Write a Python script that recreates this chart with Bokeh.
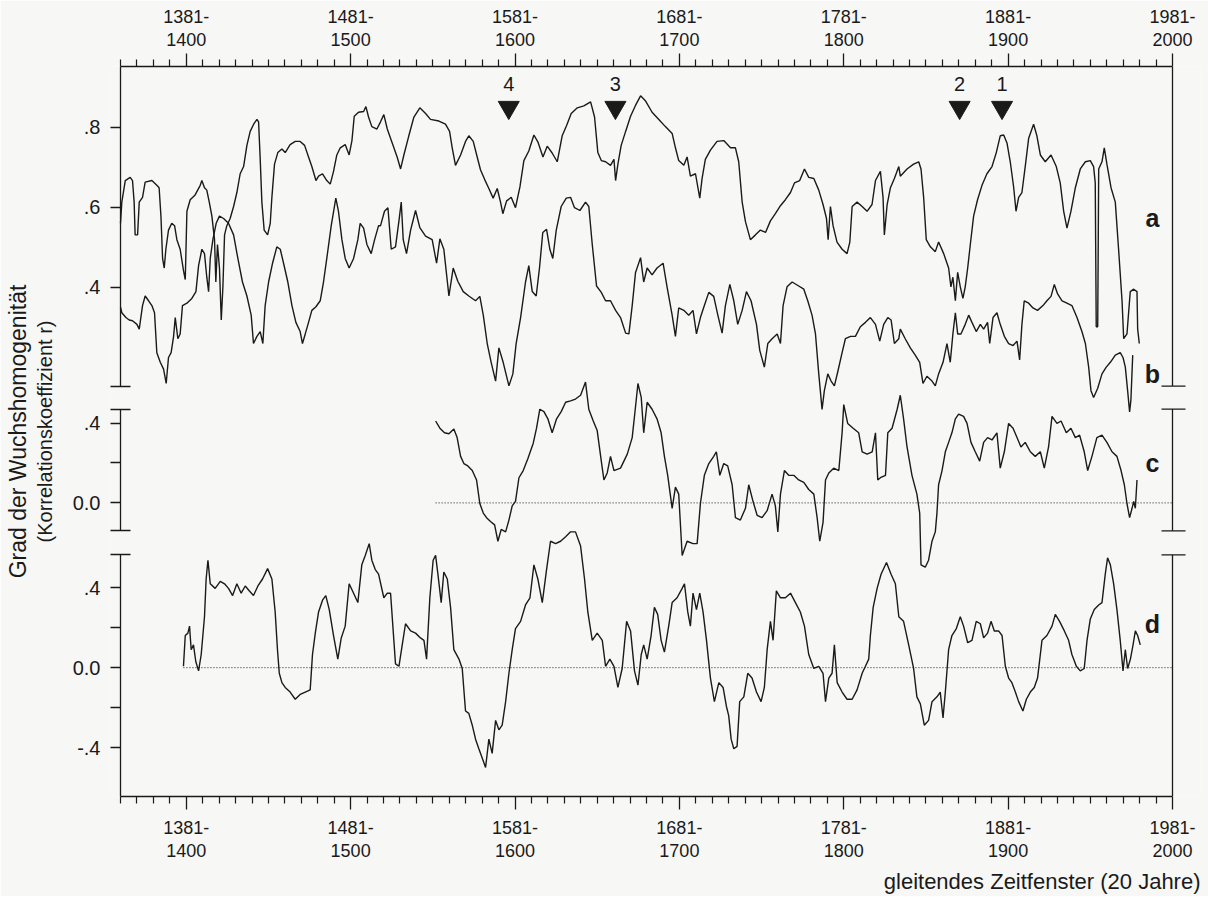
from bokeh.plotting import figure
from bokeh.models import Range1d, LinearAxis, FixedTicker, CustomJSTickFormatter, Title
from bokeh.core.properties import value
from bokeh.embed import file_html
from bokeh.resources import INLINE

# ---------------- data ----------------
A_YEARS = [1341.0, 1341.8, 1343.9, 1346.9, 1348.3, 1349.3, 1349.9, 1351.4, 1352.4, 1354.4, 1356.0, 1360.1, 1363.1, 1364.5, 1365.6, 1366.6, 1367.6, 1368.6, 1370.2, 1372.2, 1373.9, 1375.3, 1377.3, 1379.3, 1380.4, 1381.4, 1383.4, 1386.4, 1389.5, 1390.5, 1392.1, 1393.5, 1395.0, 1396.6, 1398.2, 1399.0, 1400.0, 1401.2, 1402.3, 1403.3, 1404.3, 1405.7, 1407.7, 1409.8, 1411.8, 1413.8, 1415.9, 1417.9, 1419.9, 1422.0, 1424.0, 1425.0, 1426.0, 1427.0, 1428.4, 1430.5, 1432.1, 1433.1, 1434.7, 1436.7, 1439.2, 1441.2, 1444.2, 1447.3, 1450.3, 1453.0, 1455.4, 1457.4, 1459.9, 1461.5, 1463.9, 1466.5, 1468.6, 1470.6, 1472.6, 1474.7, 1477.7, 1480.1, 1481.8, 1483.2, 1485.8, 1488.9, 1490.3, 1491.9, 1493.9, 1497.0, 1499.2, 1501.2, 1503.3, 1506.3, 1509.3, 1511.4, 1513.4, 1516.4, 1519.5, 1523.1, 1526.6, 1529.6, 1534.7, 1538.7, 1541.2, 1542.8, 1544.8, 1547.9, 1550.9, 1552.9, 1555.6, 1558.0, 1560.0, 1562.5, 1565.1, 1567.7, 1570.2, 1572.2, 1573.6, 1575.9, 1578.7, 1581.3, 1584.0, 1586.4, 1589.4, 1592.5, 1594.9, 1598.0, 1600.6, 1603.6, 1606.7, 1609.7, 1612.4, 1615.2, 1618.9, 1622.9, 1627.0, 1629.4, 1631.4, 1633.5, 1636.1, 1639.1, 1641.2, 1642.2, 1643.6, 1645.6, 1648.3, 1651.3, 1654.3, 1657.4, 1660.3, 1664.4, 1668.5, 1672.5, 1676.6, 1678.6, 1680.6, 1683.7, 1685.7, 1687.7, 1690.8, 1693.4, 1694.8, 1696.8, 1699.9, 1703.9, 1708.0, 1712.1, 1715.1, 1717.1, 1719.2, 1721.2, 1724.2, 1727.3, 1730.3, 1733.4, 1736.4, 1739.4, 1742.5, 1745.5, 1748.6, 1751.0, 1754.2, 1757.1, 1759.7, 1762.8, 1765.8, 1768.4, 1770.5, 1771.5, 1772.9, 1774.5, 1776.9, 1780.0, 1783.0, 1784.7, 1786.1, 1789.1, 1792.2, 1795.2, 1798.2, 1800.3, 1803.3, 1804.9, 1805.7, 1807.4, 1809.4, 1811.8, 1814.5, 1815.4, 1819.5, 1823.5, 1826.6, 1828.0, 1829.6, 1831.2, 1833.7, 1836.7, 1838.7, 1841.8, 1844.8, 1846.2, 1847.4, 1848.9, 1850.3, 1851.9, 1853.5, 1854.9, 1856.4, 1858.0, 1860.0, 1862.4, 1865.1, 1868.1, 1871.2, 1873.8, 1876.2, 1878.3, 1880.3, 1882.3, 1884.4, 1885.8, 1887.4, 1889.4, 1891.4, 1893.5, 1896.5, 1898.5, 1900.6, 1903.6, 1907.1, 1910.3, 1912.7, 1914.8, 1916.8, 1919.2, 1921.9, 1924.9, 1928.0, 1931.0, 1933.0, 1934.0, 1934.6, 1935.5, 1936.1, 1938.1, 1939.5, 1941.1, 1943.6, 1946.2, 1948.2, 1950.3, 1951.3, 1953.3, 1955.3, 1957.4, 1959.4, 1959.8, 1960.8]
A_VALUES = [0.560, 0.613, 0.667, 0.675, 0.667, 0.613, 0.531, 0.531, 0.613, 0.625, 0.663, 0.667, 0.655, 0.649, 0.578, 0.472, 0.448, 0.495, 0.543, 0.560, 0.554, 0.519, 0.495, 0.442, 0.419, 0.590, 0.619, 0.631, 0.655, 0.667, 0.649, 0.643, 0.613, 0.578, 0.519, 0.413, 0.507, 0.448, 0.318, 0.401, 0.531, 0.554, 0.572, 0.602, 0.637, 0.684, 0.702, 0.755, 0.790, 0.808, 0.820, 0.814, 0.720, 0.613, 0.543, 0.531, 0.560, 0.625, 0.708, 0.737, 0.746, 0.737, 0.757, 0.765, 0.765, 0.755, 0.726, 0.702, 0.667, 0.678, 0.684, 0.667, 0.658, 0.690, 0.731, 0.749, 0.757, 0.731, 0.767, 0.828, 0.838, 0.840, 0.852, 0.826, 0.802, 0.796, 0.814, 0.832, 0.796, 0.761, 0.726, 0.696, 0.731, 0.779, 0.826, 0.849, 0.835, 0.820, 0.816, 0.808, 0.790, 0.749, 0.705, 0.731, 0.765, 0.779, 0.765, 0.726, 0.694, 0.670, 0.647, 0.623, 0.647, 0.613, 0.584, 0.616, 0.625, 0.599, 0.651, 0.717, 0.741, 0.781, 0.764, 0.726, 0.753, 0.736, 0.714, 0.779, 0.805, 0.835, 0.849, 0.854, 0.864, 0.826, 0.737, 0.717, 0.714, 0.705, 0.720, 0.667, 0.708, 0.755, 0.790, 0.828, 0.855, 0.879, 0.867, 0.838, 0.820, 0.802, 0.785, 0.749, 0.717, 0.705, 0.726, 0.678, 0.684, 0.623, 0.672, 0.720, 0.743, 0.765, 0.767, 0.749, 0.749, 0.714, 0.613, 0.564, 0.519, 0.531, 0.543, 0.537, 0.566, 0.584, 0.604, 0.619, 0.637, 0.661, 0.667, 0.696, 0.675, 0.672, 0.643, 0.607, 0.572, 0.519, 0.602, 0.554, 0.513, 0.495, 0.484, 0.513, 0.602, 0.613, 0.602, 0.590, 0.607, 0.667, 0.690, 0.625, 0.531, 0.607, 0.649, 0.672, 0.702, 0.678, 0.696, 0.708, 0.714, 0.696, 0.625, 0.519, 0.501, 0.489, 0.513, 0.484, 0.448, 0.401, 0.425, 0.366, 0.437, 0.401, 0.372, 0.401, 0.448, 0.507, 0.578, 0.619, 0.655, 0.684, 0.702, 0.737, 0.779, 0.781, 0.761, 0.714, 0.649, 0.590, 0.625, 0.637, 0.702, 0.773, 0.808, 0.779, 0.731, 0.714, 0.731, 0.702, 0.661, 0.590, 0.548, 0.590, 0.649, 0.696, 0.714, 0.717, 0.702, 0.661, 0.301, 0.301, 0.696, 0.714, 0.749, 0.708, 0.649, 0.613, 0.495, 0.366, 0.271, 0.283, 0.389, 0.395, 0.389, 0.295, 0.259]

B_YEARS = [1341.0, 1341.8, 1344.3, 1346.3, 1348.3, 1351.0, 1352.4, 1354.4, 1356.0, 1358.1, 1360.1, 1361.7, 1363.1, 1365.2, 1367.2, 1368.8, 1370.2, 1371.8, 1373.3, 1374.3, 1375.9, 1377.3, 1378.7, 1381.4, 1384.4, 1386.9, 1388.5, 1390.5, 1392.1, 1393.5, 1394.6, 1395.6, 1397.2, 1399.2, 1401.2, 1403.7, 1406.7, 1409.8, 1412.4, 1415.2, 1417.9, 1420.5, 1421.9, 1424.0, 1426.0, 1427.6, 1429.0, 1431.1, 1433.5, 1436.1, 1438.2, 1440.2, 1442.8, 1445.3, 1447.7, 1450.3, 1451.7, 1453.4, 1455.4, 1457.4, 1459.9, 1462.5, 1464.5, 1466.5, 1469.2, 1472.0, 1473.6, 1475.7, 1477.7, 1480.1, 1482.8, 1485.4, 1486.8, 1488.9, 1490.9, 1493.5, 1495.6, 1498.0, 1499.2, 1501.6, 1503.7, 1505.7, 1508.3, 1510.4, 1511.8, 1513.0, 1515.0, 1517.5, 1520.5, 1523.1, 1526.6, 1530.6, 1533.3, 1535.3, 1537.7, 1540.8, 1543.4, 1546.2, 1549.5, 1552.9, 1557.0, 1559.6, 1561.7, 1564.1, 1566.5, 1569.2, 1571.2, 1573.8, 1577.3, 1579.7, 1581.7, 1584.4, 1587.4, 1589.4, 1591.5, 1593.9, 1595.9, 1597.9, 1600.2, 1602.2, 1604.0, 1606.1, 1609.1, 1612.2, 1614.8, 1617.2, 1620.5, 1623.9, 1625.9, 1628.0, 1630.6, 1633.5, 1636.1, 1639.1, 1642.2, 1645.2, 1648.3, 1650.3, 1652.3, 1654.3, 1657.4, 1659.3, 1661.4, 1664.4, 1667.4, 1671.1, 1673.5, 1676.6, 1678.6, 1680.6, 1683.7, 1686.7, 1689.3, 1691.4, 1693.8, 1696.2, 1698.9, 1701.9, 1704.4, 1707.0, 1709.0, 1711.7, 1714.1, 1716.5, 1719.2, 1721.8, 1724.6, 1727.9, 1729.9, 1732.7, 1734.8, 1737.4, 1740.5, 1742.5, 1744.1, 1746.5, 1749.6, 1753.6, 1756.7, 1759.1, 1761.7, 1763.8, 1765.8, 1767.8, 1769.2, 1771.3, 1773.3, 1775.3, 1777.4, 1780.0, 1782.0, 1785.1, 1788.1, 1791.1, 1794.2, 1797.2, 1800.3, 1802.9, 1805.3, 1807.8, 1809.8, 1811.8, 1814.5, 1815.4, 1818.4, 1821.5, 1824.5, 1827.2, 1829.2, 1831.6, 1834.7, 1836.7, 1838.7, 1841.4, 1843.8, 1845.8, 1847.4, 1848.9, 1850.3, 1852.3, 1854.9, 1857.0, 1859.0, 1861.6, 1864.1, 1866.1, 1868.5, 1869.8, 1871.8, 1874.2, 1876.2, 1878.7, 1881.3, 1884.0, 1886.4, 1888.0, 1889.4, 1890.8, 1893.5, 1896.1, 1898.9, 1902.2, 1904.6, 1907.1, 1909.1, 1911.1, 1913.8, 1916.8, 1919.8, 1922.9, 1925.9, 1928.0, 1930.0, 1931.4, 1933.0, 1935.5, 1938.1, 1940.7, 1943.2, 1946.2, 1949.2, 1950.9, 1952.3, 1953.7, 1954.9, 1955.7, 1956.8]
B_VALUES = [0.350, 0.336, 0.324, 0.318, 0.316, 0.307, 0.295, 0.354, 0.378, 0.366, 0.354, 0.336, 0.236, 0.212, 0.195, 0.159, 0.224, 0.236, 0.277, 0.324, 0.271, 0.283, 0.354, 0.360, 0.372, 0.389, 0.454, 0.495, 0.484, 0.425, 0.389, 0.472, 0.519, 0.560, 0.578, 0.572, 0.560, 0.531, 0.472, 0.413, 0.378, 0.330, 0.259, 0.277, 0.289, 0.259, 0.354, 0.413, 0.460, 0.501, 0.495, 0.460, 0.413, 0.354, 0.312, 0.289, 0.259, 0.283, 0.312, 0.342, 0.351, 0.366, 0.413, 0.472, 0.554, 0.623, 0.590, 0.519, 0.472, 0.448, 0.472, 0.519, 0.560, 0.548, 0.507, 0.484, 0.519, 0.554, 0.554, 0.590, 0.599, 0.495, 0.501, 0.566, 0.613, 0.519, 0.484, 0.543, 0.592, 0.549, 0.528, 0.519, 0.460, 0.521, 0.495, 0.378, 0.448, 0.415, 0.389, 0.378, 0.366, 0.377, 0.330, 0.259, 0.212, 0.165, 0.248, 0.212, 0.153, 0.183, 0.259, 0.324, 0.413, 0.454, 0.389, 0.378, 0.448, 0.537, 0.545, 0.495, 0.472, 0.543, 0.602, 0.623, 0.625, 0.599, 0.592, 0.613, 0.602, 0.507, 0.403, 0.387, 0.366, 0.366, 0.342, 0.324, 0.285, 0.283, 0.354, 0.436, 0.474, 0.413, 0.448, 0.431, 0.448, 0.460, 0.401, 0.330, 0.277, 0.348, 0.342, 0.330, 0.342, 0.283, 0.324, 0.354, 0.387, 0.377, 0.330, 0.285, 0.354, 0.407, 0.366, 0.307, 0.342, 0.389, 0.366, 0.307, 0.242, 0.200, 0.259, 0.271, 0.283, 0.259, 0.354, 0.401, 0.413, 0.403, 0.395, 0.366, 0.330, 0.283, 0.183, 0.094, 0.141, 0.183, 0.165, 0.153, 0.189, 0.236, 0.271, 0.277, 0.277, 0.301, 0.312, 0.324, 0.307, 0.265, 0.307, 0.324, 0.318, 0.259, 0.271, 0.295, 0.271, 0.248, 0.230, 0.212, 0.159, 0.177, 0.165, 0.153, 0.183, 0.212, 0.259, 0.212, 0.283, 0.336, 0.283, 0.283, 0.307, 0.330, 0.312, 0.289, 0.307, 0.295, 0.312, 0.259, 0.324, 0.336, 0.307, 0.277, 0.259, 0.254, 0.265, 0.218, 0.307, 0.366, 0.360, 0.348, 0.342, 0.354, 0.366, 0.377, 0.407, 0.383, 0.366, 0.360, 0.354, 0.324, 0.289, 0.259, 0.200, 0.141, 0.124, 0.147, 0.183, 0.200, 0.212, 0.230, 0.236, 0.224, 0.200, 0.141, 0.088, 0.118, 0.230]

C_YEARS = [1532.7, 1535.3, 1538.1, 1540.8, 1543.8, 1545.8, 1547.9, 1549.9, 1552.3, 1555.0, 1557.6, 1559.6, 1561.7, 1563.7, 1566.1, 1568.6, 1570.6, 1572.6, 1575.3, 1577.3, 1579.3, 1581.3, 1583.4, 1586.0, 1588.8, 1592.1, 1594.1, 1596.1, 1598.6, 1601.0, 1603.6, 1606.3, 1609.1, 1611.8, 1614.8, 1617.8, 1620.9, 1623.9, 1625.9, 1628.6, 1631.0, 1633.5, 1635.1, 1637.1, 1639.1, 1641.2, 1645.2, 1649.3, 1652.3, 1654.3, 1655.8, 1657.8, 1659.3, 1661.4, 1664.4, 1667.4, 1669.9, 1671.9, 1673.9, 1676.6, 1678.6, 1680.6, 1682.7, 1685.7, 1689.3, 1691.8, 1693.8, 1696.2, 1698.9, 1701.9, 1703.5, 1705.6, 1708.0, 1710.4, 1713.1, 1715.1, 1718.1, 1721.2, 1723.2, 1725.8, 1728.3, 1731.3, 1734.4, 1737.4, 1739.4, 1740.9, 1742.5, 1744.9, 1747.5, 1750.6, 1753.6, 1756.7, 1759.7, 1762.8, 1764.8, 1766.4, 1768.4, 1769.9, 1771.9, 1774.9, 1778.0, 1780.0, 1781.0, 1783.4, 1786.7, 1790.1, 1792.2, 1795.2, 1798.3, 1800.3, 1801.7, 1803.3, 1806.4, 1807.8, 1810.4, 1813.5, 1815.4, 1817.4, 1819.5, 1822.5, 1825.5, 1827.2, 1828.0, 1830.6, 1832.6, 1834.7, 1836.7, 1837.7, 1838.7, 1840.8, 1842.8, 1844.8, 1846.8, 1848.9, 1850.9, 1853.9, 1856.0, 1858.4, 1861.0, 1863.7, 1866.1, 1868.5, 1871.2, 1874.2, 1876.2, 1878.7, 1881.3, 1884.0, 1886.4, 1888.8, 1891.4, 1894.5, 1897.5, 1900.6, 1903.0, 1905.6, 1907.7, 1910.7, 1913.2, 1916.4, 1919.2, 1921.9, 1924.5, 1927.3, 1929.4, 1932.0, 1935.0, 1938.1, 1941.1, 1944.2, 1947.2, 1949.7, 1951.7, 1953.3, 1954.9, 1956.4, 1957.4, 1958.4, 1959.4]
C_VALUES = [0.410, 0.374, 0.351, 0.346, 0.370, 0.327, 0.233, 0.197, 0.185, 0.162, 0.115, -0.003, -0.051, -0.074, -0.093, -0.110, -0.192, -0.133, -0.145, -0.086, -0.015, 0.008, 0.126, 0.162, 0.221, 0.299, 0.374, 0.469, 0.457, 0.421, 0.351, 0.421, 0.457, 0.504, 0.511, 0.520, 0.539, 0.605, 0.469, 0.410, 0.362, 0.209, 0.115, 0.150, 0.233, 0.162, 0.174, 0.244, 0.327, 0.480, 0.598, 0.528, 0.351, 0.504, 0.469, 0.421, 0.351, 0.233, 0.138, -0.027, 0.079, 0.044, -0.263, -0.192, -0.204, -0.204, -0.003, 0.138, 0.197, 0.233, 0.256, 0.138, 0.197, 0.185, 0.091, -0.074, -0.086, -0.027, 0.091, 0.008, -0.062, -0.074, -0.039, 0.044, -0.015, -0.145, 0.044, 0.162, 0.138, 0.138, 0.115, 0.103, 0.067, 0.044, -0.074, -0.192, -0.098, 0.115, 0.150, 0.174, 0.162, 0.351, 0.492, 0.398, 0.374, 0.351, 0.256, 0.244, 0.256, 0.351, 0.115, 0.126, 0.138, 0.351, 0.374, 0.469, 0.539, 0.421, 0.280, 0.138, 0.044, -0.051, -0.310, -0.322, -0.287, -0.192, -0.145, -0.051, 0.091, 0.162, 0.256, 0.303, 0.351, 0.421, 0.445, 0.433, 0.398, 0.303, 0.256, 0.209, 0.303, 0.327, 0.315, 0.351, 0.174, 0.256, 0.398, 0.374, 0.327, 0.280, 0.303, 0.256, 0.233, 0.256, 0.174, 0.280, 0.433, 0.398, 0.410, 0.351, 0.374, 0.327, 0.339, 0.256, 0.162, 0.233, 0.327, 0.339, 0.303, 0.256, 0.233, 0.162, 0.091, -0.003, -0.074, -0.027, 0.008, -0.027, 0.115]

D_YEARS = [1379.3, 1380.4, 1382.0, 1383.0, 1384.0, 1385.4, 1386.8, 1388.5, 1390.1, 1392.1, 1393.1, 1394.2, 1395.6, 1398.6, 1401.7, 1404.3, 1406.7, 1409.2, 1411.8, 1414.4, 1416.9, 1419.3, 1421.9, 1424.6, 1427.4, 1430.5, 1433.1, 1435.1, 1436.5, 1437.6, 1439.2, 1441.2, 1444.2, 1447.3, 1450.3, 1453.4, 1456.4, 1457.8, 1459.5, 1461.5, 1463.9, 1465.9, 1468.0, 1470.6, 1473.2, 1475.3, 1477.7, 1480.1, 1482.8, 1485.4, 1487.8, 1489.9, 1492.3, 1493.9, 1496.0, 1498.0, 1501.2, 1503.3, 1505.3, 1506.9, 1508.3, 1510.4, 1512.4, 1514.4, 1517.5, 1520.5, 1523.5, 1525.6, 1527.2, 1529.2, 1531.2, 1532.7, 1534.1, 1536.1, 1537.7, 1539.8, 1541.8, 1543.8, 1546.9, 1548.9, 1550.9, 1552.9, 1555.0, 1557.0, 1559.0, 1561.1, 1563.1, 1565.1, 1567.1, 1569.2, 1571.2, 1573.2, 1575.3, 1577.3, 1579.3, 1581.3, 1584.4, 1587.4, 1590.1, 1592.5, 1594.9, 1597.6, 1600.2, 1602.6, 1605.7, 1608.7, 1611.8, 1614.8, 1617.8, 1620.9, 1623.3, 1625.3, 1628.0, 1631.0, 1634.1, 1636.1, 1638.7, 1641.2, 1643.6, 1646.2, 1648.9, 1651.3, 1653.7, 1655.8, 1657.8, 1659.3, 1661.4, 1663.8, 1665.8, 1667.8, 1669.9, 1671.9, 1674.5, 1676.6, 1679.6, 1682.7, 1684.1, 1686.1, 1687.7, 1689.3, 1691.4, 1693.4, 1695.4, 1697.5, 1699.9, 1702.3, 1705.0, 1707.6, 1709.6, 1711.0, 1712.5, 1714.1, 1716.1, 1717.7, 1720.2, 1722.6, 1725.2, 1727.9, 1730.7, 1732.7, 1734.4, 1736.4, 1738.0, 1740.0, 1742.5, 1745.5, 1748.6, 1751.6, 1754.6, 1757.1, 1759.7, 1762.8, 1765.8, 1768.4, 1769.9, 1771.9, 1773.9, 1775.3, 1777.0, 1780.0, 1783.0, 1786.1, 1789.1, 1792.2, 1794.2, 1796.2, 1797.2, 1798.9, 1801.3, 1803.7, 1807.0, 1809.8, 1812.4, 1814.5, 1817.4, 1820.5, 1823.5, 1825.5, 1827.6, 1830.0, 1832.6, 1834.7, 1837.7, 1839.7, 1841.4, 1842.8, 1844.8, 1846.8, 1849.5, 1851.9, 1853.9, 1856.4, 1859.0, 1861.6, 1864.1, 1866.1, 1868.5, 1870.6, 1872.6, 1875.2, 1877.3, 1879.3, 1881.3, 1883.3, 1885.4, 1887.4, 1890.0, 1892.1, 1894.5, 1896.9, 1898.9, 1901.6, 1904.6, 1907.7, 1909.7, 1912.3, 1915.2, 1917.8, 1919.8, 1922.5, 1924.9, 1927.3, 1929.0, 1931.0, 1933.4, 1936.1, 1938.1, 1940.1, 1941.5, 1943.2, 1945.2, 1947.2, 1949.2, 1950.9, 1952.3, 1953.7, 1955.4, 1957.0, 1958.4, 1959.8, 1961.4]
D_VALUES = [0.007, 0.161, 0.173, 0.208, 0.090, 0.114, 0.031, -0.016, 0.066, 0.255, 0.444, 0.538, 0.420, 0.397, 0.432, 0.420, 0.397, 0.361, 0.420, 0.373, 0.409, 0.385, 0.361, 0.409, 0.444, 0.496, 0.444, 0.279, 0.090, -0.028, -0.075, -0.099, -0.122, -0.158, -0.134, -0.122, -0.111, 0.066, 0.173, 0.279, 0.338, 0.361, 0.291, 0.161, 0.043, 0.149, 0.208, 0.420, 0.373, 0.326, 0.515, 0.562, 0.621, 0.538, 0.491, 0.468, 0.350, 0.373, 0.373, 0.184, 0.019, 0.007, 0.114, 0.220, 0.184, 0.173, 0.149, 0.137, 0.043, 0.350, 0.538, 0.562, 0.468, 0.326, 0.479, 0.444, 0.302, 0.090, 0.043, -0.004, -0.217, -0.229, -0.288, -0.358, -0.406, -0.453, -0.500, -0.358, -0.429, -0.264, -0.311, -0.288, -0.170, -0.028, 0.090, 0.196, 0.232, 0.314, 0.350, 0.515, 0.444, 0.326, 0.491, 0.633, 0.621, 0.633, 0.656, 0.680, 0.680, 0.609, 0.444, 0.279, 0.137, 0.173, 0.137, 0.007, 0.043, 0.007, -0.099, -0.004, 0.232, 0.184, -0.016, -0.087, 0.066, 0.114, 0.043, 0.161, 0.302, 0.267, 0.137, 0.078, 0.208, 0.326, 0.350, 0.397, 0.420, 0.279, 0.208, 0.373, 0.291, 0.373, 0.279, 0.137, -0.052, -0.170, -0.075, -0.099, -0.193, -0.240, -0.358, -0.406, -0.394, -0.170, -0.146, -0.028, -0.052, -0.122, -0.170, -0.099, 0.090, 0.232, 0.137, 0.385, 0.350, 0.350, 0.373, 0.326, 0.279, 0.208, 0.066, -0.004, 0.007, -0.028, -0.170, -0.052, -0.028, 0.114, -0.075, -0.122, -0.158, -0.158, -0.111, -0.028, 0.007, 0.043, 0.161, 0.302, 0.397, 0.468, 0.527, 0.468, 0.420, 0.255, 0.232, 0.114, -0.004, -0.146, -0.181, -0.288, -0.264, -0.170, -0.146, -0.122, -0.252, -0.122, 0.090, 0.161, 0.196, 0.255, 0.208, 0.125, 0.137, 0.232, 0.220, 0.149, 0.173, 0.232, 0.184, 0.184, 0.161, 0.007, -0.052, -0.075, -0.122, -0.170, -0.217, -0.158, -0.122, -0.099, -0.052, 0.137, 0.161, 0.208, 0.267, 0.232, 0.184, 0.137, 0.066, 0.007, -0.016, -0.004, 0.137, 0.244, 0.291, 0.314, 0.326, 0.468, 0.550, 0.515, 0.420, 0.291, 0.137, -0.016, 0.090, -0.004, 0.043, 0.114, 0.184, 0.161, 0.114]

# axis ticks / labels
X_START, X_END = 1341, 1981
X_TICKS = [1381, 1481, 1581, 1681, 1781, 1881, 1981]
X_TICK_LABELS = ["1381-\n1400", "1481-\n1500", "1581-\n1600", "1681-\n1700",
                 "1781-\n1800", "1881-\n1900", "1981-\n2000"]
X_MINOR = [y for y in range(X_START, X_END + 1, 10) if y not in X_TICKS]

AB_TICKS = [0.4, 0.6, 0.8]
AB_TICK_LABELS = [".4", ".6", ".8"]
C_TICKS = [0.0, 0.2, 0.4]
C_TICK_LABELS = ["0.0", "", ".4"]
D_TICKS = [-0.4, -0.2, 0.0, 0.2, 0.4]
D_TICK_LABELS = ["-.4", "", "0.0", "", ".4"]

MARK_YEARS = [1577.2, 1642.1, 1851.5, 1877.3]
MARK_LABELS = ["4", "3", "2", "1"]
PANEL_LABELS = ["a", "b", "c", "d"]

Y_TITLE = "Grad der Wuchshomogenität"
Y_SUBTITLE = "(Korrelationskoeffizient r)"
X_TITLE = "gleitendes Zeitfenster (20 Jahre)"

# ---------------- layout ----------------
W, H = 1208, 896
FRAME_L, FRAME_R, FRAME_T, FRAME_B = 110, 1200, 66, 797
AXIS_PX_L, AXIS_PX_R = 120, 1172
PXY = (AXIS_PX_R - AXIS_PX_L) / (X_END - X_START)

INK = "#1a1a1a"
BG = "#f7f7f5"
FONT = "Liberation Sans"


def panel_range(ppu, v0, y0):
    return Range1d(v0 - (FRAME_B - y0) / ppu, v0 + (y0 - FRAME_T) / ppu)


ab_rng = panel_range(400, 0.8, 127)
c_rng = panel_range(200, 0.0, 503)
d_rng = panel_range(200, 0.0, 668)


def px_to(rng, ypx):
    return rng.end - (ypx - FRAME_T) / (FRAME_B - FRAME_T) * (rng.end - rng.start)


def to_main(rng, v):
    return ab_rng.start + (v - rng.start) / (rng.end - rng.start) * (ab_rng.end - ab_rng.start)


x_rng = Range1d(X_START - (AXIS_PX_L - FRAME_L) / PXY, X_END + (FRAME_R - AXIS_PX_R) / PXY)

p = figure(width=W, height=H, x_range=x_rng, y_range=ab_rng, output_backend="svg",
           toolbar_location=None, title=None,
           min_border_left=FRAME_L, min_border_right=W - FRAME_R,
           min_border_top=FRAME_T, min_border_bottom=H - FRAME_B,
           background_fill_color=BG, border_fill_color=BG)
p.outline_line_color = None
p.xgrid.visible = False
p.ygrid.visible = False
p.extra_y_ranges = {"c": c_rng, "d": d_rng}
bottom = p.below[0]

# caps (break marks) in each panel's own units
ab_lo = px_to(ab_rng, 386)
c_hi, c_lo = px_to(c_rng, 409), px_to(c_rng, 531)
d_hi = px_to(d_rng, 555)

# ---- left axis (composite ticks) ----
y_pos = [round(v, 6) for v in AB_TICKS] + \
        [round(to_main(c_rng, v), 6) for v in C_TICKS] + \
        [round(to_main(d_rng, v), 6) for v in D_TICKS]
y_lab = AB_TICK_LABELS + C_TICK_LABELS + D_TICK_LABELS
caps_main = [round(ab_lo, 6), round(to_main(c_rng, c_hi), 6),
             round(to_main(c_rng, c_lo), 6), round(to_main(d_rng, d_hi), 6)]

ya = p.yaxis[0]
ya.ticker = FixedTicker(ticks=y_pos, minor_ticks=caps_main)
ya.formatter = CustomJSTickFormatter(args=dict(pos=y_pos, labels=y_lab), code="""
for (let i = 0; i < pos.length; i++) { if (Math.abs(pos[i] - tick) < 1e-5) return labels[i]; }
return "";
""")
ya.axis_line_color = None
ya.major_tick_in = AXIS_PX_L - FRAME_L
ya.major_tick_out = 0
ya.minor_tick_in = 2 * (AXIS_PX_L - FRAME_L)
ya.minor_tick_out = 0
ya.major_tick_line_color = INK
ya.minor_tick_line_color = INK
ya.major_tick_line_width = 1.3
ya.minor_tick_line_width = 1.3
ya.major_label_standoff = 10
ya.major_label_text_font = FONT
ya.major_label_text_font_size = "20px"
ya.major_label_text_color = INK
ya.axis_label = Y_SUBTITLE
ya.axis_label_text_font = FONT
ya.axis_label_text_font_size = "20px"
ya.axis_label_text_font_style = "normal"
ya.axis_label_text_color = INK
ya.axis_label_standoff = 14

# ---- x axes ----
xfmt = CustomJSTickFormatter(args=dict(pos=X_TICKS, labels=X_TICK_LABELS), code="""
const i = pos.indexOf(tick); return i >= 0 ? labels[i] : "";
""")
top = LinearAxis()
p.add_layout(top, "above")
for ax in (bottom, top):
    ax.ticker = FixedTicker(ticks=X_TICKS, minor_ticks=X_MINOR)
    ax.formatter = xfmt
    ax.bounds = (X_START, X_END)
    ax.axis_line_color = INK
    ax.axis_line_width = 1.3
    ax.major_tick_in = 0
    ax.major_tick_out = 13
    ax.minor_tick_in = 0
    ax.minor_tick_out = 7
    ax.major_tick_line_color = INK
    ax.minor_tick_line_color = INK
    ax.major_tick_line_width = 1.3
    ax.minor_tick_line_width = 1.2
    ax.major_label_text_font = FONT
    ax.major_label_text_font_size = "18px"
    ax.major_label_text_color = INK
    ax.major_label_text_line_height = 1.15
top.major_label_standoff = 4
bottom.major_label_standoff = 8

# ---- titles ----
p.add_layout(Title(text=Y_TITLE, align="center", text_font=FONT, standoff=0,
                   text_font_size="23px", text_font_style="normal", text_color=INK), "left")
p.add_layout(Title(text=X_TITLE, align="right", text_font=FONT, standoff=6,
                   text_font_size="22px", text_font_style="normal", text_color=INK), "below")

# ---- frame pieces: left / right axis lines with break caps ----
cap_dx = (AXIS_PX_L - FRAME_L) / PXY
for rng_name, lo, hi in (("default", ab_lo, ab_rng.end), ("c", c_lo, c_hi), ("d", d_rng.start, d_hi)):
    for xx in (X_START, X_END):
        p.segment(x0=[xx], y0=[lo], x1=[xx], y1=[hi], line_color=INK, line_width=1.3,
                  y_range_name=rng_name)
# right-side caps
for rng_name, yy in (("default", ab_lo), ("c", c_hi), ("c", c_lo), ("d", d_hi)):
    p.segment(x0=[X_END - cap_dx * 1.1], y0=[yy], x1=[X_END + cap_dx * 1.3], y1=[yy],
              line_color=INK, line_width=1.3, y_range_name=rng_name)

# ---- zero reference lines ----
p.line([C_YEARS[0], X_END], [0, 0], y_range_name="c", line_color=INK, line_width=1,
       line_dash="1 2")
p.line([D_YEARS[0], X_END], [0, 0], y_range_name="d", line_color=INK, line_width=1,
       line_dash="1 2")

# ---- series ----
lw = 1.4
p.line(A_YEARS, A_VALUES, line_color=INK, line_width=lw)
p.line(B_YEARS, B_VALUES, line_color=INK, line_width=lw)
p.line(C_YEARS, C_VALUES, line_color=INK, line_width=lw, y_range_name="c")
p.line(D_YEARS, D_VALUES, line_color=INK, line_width=lw, y_range_name="d")

# ---- event markers ----
tri_y = px_to(ab_rng, 107)
num_y = px_to(ab_rng, 84)
p.scatter(MARK_YEARS, [tri_y] * len(MARK_YEARS), marker="inverted_triangle", size=21,
          fill_color=INK, line_color=INK)
p.text(MARK_YEARS, [num_y] * len(MARK_YEARS), text=MARK_LABELS, text_font=value(FONT),
       text_font_size="20px", text_align="center", text_baseline="middle", text_color=INK)

# ---- panel letters ----
lab_x = X_START + (1152 - AXIS_PX_L) / PXY
for rng_name, rng, ypx, lab in (("default", ab_rng, 218, PANEL_LABELS[0]),
                                ("default", ab_rng, 374, PANEL_LABELS[1]),
                                ("c", c_rng, 463, PANEL_LABELS[2]),
                                ("d", d_rng, 624, PANEL_LABELS[3])):
    p.text([lab_x], [px_to(rng, ypx)], text=[lab], text_font=value(FONT),
           text_font_size="25px", text_font_style="bold", text_align="center",
           text_baseline="middle", text_color=INK, y_range_name=rng_name)

open("out.html", "w").write(file_html(p, INLINE))
